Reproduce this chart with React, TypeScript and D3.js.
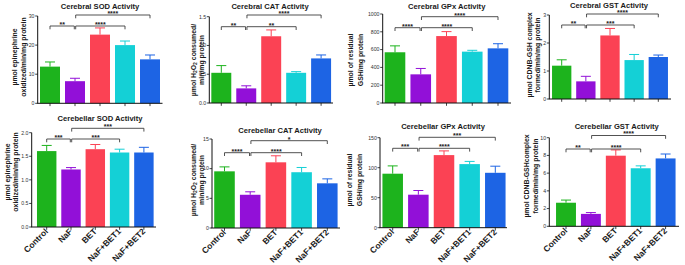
import React from "react";
import * as d3 from "d3";

const categories = ["Control", "NaF", "BET", "NaF+BET1", "NaF+BET2"];
const barColors = ["#1db31d", "#9210d8", "#fb4254", "#14d0d6", "#1d64e4"];

const titles = [
  "Cerebral SOD Activity",
  "Cerebral CAT Activity",
  "Cerebral GPx Activity",
  "Cerebral GST Activity",
  "Cerebellar SOD Activity",
  "Cerebellar CAT Activity",
  "Cerebellar GPx Activity",
  "Cerebellar GST Activity",
];

// means and SEM
const sodCerebralMean = [12.6, 7.6, 23.6, 20.0, 15.1];
const sodCerebralErr = [1.6, 1.0, 2.3, 1.4, 1.5];
const catCerebralMean = [0.525, 0.254, 1.16, 0.525, 0.775];
const catCerebralErr = [0.125, 0.045, 0.11, 0.02, 0.06];
const gpxCerebralMean = [570, 322, 752, 577, 614];
const gpxCerebralErr = [72, 66, 50, 15, 52];
const gstCerebralMean = [1.19, 0.63, 2.27, 1.39, 1.5];
const gstCerebralErr = [0.21, 0.18, 0.25, 0.2, 0.07];
const sodCerebellarMean = [1.61, 1.22, 1.65, 1.58, 1.58];
const sodCerebellarErr = [0.12, 0.04, 0.1, 0.07, 0.11];
const catCerebellarMean = [9.55, 5.6, 11.07, 9.4, 7.53];
const catCerebellarErr = [0.75, 0.5, 1.1, 0.8, 0.75];
const gpxCerebellarMean = [90, 55, 121, 106, 91.5];
const gpxCerebellarErr = [13, 7, 7, 4.5, 11];
const gstCerebellarMean = [2.66, 1.4, 7.97, 6.55, 7.66];
const gstCerebellarErr = [0.3, 0.15, 0.65, 0.27, 0.5];

const yMax = [30, 1.5, 1000, 3, 2, 15, 150, 10];
const yTickStep = [10, 0.5, 200, 1, 0.5, 5, 50, 2];
const yTickFmt = ["d", ".1f", "d", "d", ".1f", "d", "d", "d"];

const yLabels: string[][] = [
  ["µmol epinephrine", "oxidized/min/mg protein"],
  ["µmol H2O2 consumed/", "min/mg protein"],
  ["µmol of residual", "GSH/mg protein"],
  ["µmol CDNB-GSH complex", "formed/min/mg protein"],
  ["µmol epinephrine", "oxidized/min/mg protein"],
  ["µmol H2O2 consumed/", "min/mg protein"],
  ["µmol of residual", "GSH/mg protein"],
  ["µmol CDNB-GSHcomplex", "formed/min/mg protein"],
];

// significance: [fromIndex, toIndex, label]
const sigLow1: [number, number, string][] = [
  [0, 1, "**"], [0, 1, "**"], [0, 1, "****"], [0, 1, "**"],
  [0, 1, "***"], [0, 1, "****"], [0, 1, "***"], [0, 1, "**"],
];
const sigLow2: [number, number, string][] = [
  [1, 3, "****"], [1, 3, "**"], [1, 3, "****"], [1, 3, "***"],
  [1, 3, "***"], [1, 3, "****"], [1, 3, "****"], [1, 3, "****"],
];
const sigHigh: [number, number, string][] = [
  [1, 4, "****"], [1, 4, "****"], [1, 4, "****"], [1, 4, "****"],
  [1, 4, "***"], [1, 4, "*"], [1, 4, "***"], [1, 4, "****"],
];

const means = [
  sodCerebralMean, catCerebralMean, gpxCerebralMean, gstCerebralMean,
  sodCerebellarMean, catCerebellarMean, gpxCerebellarMean, gstCerebellarMean,
];
const errs = [
  sodCerebralErr, catCerebralErr, gpxCerebralErr, gstCerebralErr,
  sodCerebellarErr, catCerebellarErr, gpxCerebellarErr, gstCerebellarErr,
];

// layout (pixels)
type Layout = {
  axisX: number; base: number; top: number; c0: number; step: number; xEnd: number;
  tx: number; ty: number; lx1: number; lx2: number; lcy: number; bLow: number; bHigh: number;
  xLabels: boolean;
};
const layouts: Layout[] = [
  { axisX: 37.7, base: 103.3, top: 16, c0: 50, step: 25, xEnd: 162.5, tx: 100, ty: 8.5, lx1: 14, lx2: 23.3, lcy: 57, bLow: 26, bHigh: 15, xLabels: false },
  { axisX: 209.3, base: 103, top: 16.7, c0: 221.3, step: 24.95, xEnd: 333, tx: 270, ty: 8.5, lx1: 193.3, lx2: 201.5, lcy: 60, bLow: 26.7, bHigh: 15, xLabels: false },
  { axisX: 382.7, base: 103, top: 14, c0: 395, step: 25.75, xEnd: 511, tx: 446.7, ty: 9.3, lx1: 350, lx2: 360, lcy: 60, bLow: 27.7, bHigh: 16.7, xLabels: false },
  { axisX: 549.3, base: 99, top: 15, c0: 561.7, step: 24.15, xEnd: 671, tx: 609, ty: 7.5, lx1: 529.7, lx2: 537.3, lcy: 55, bLow: 25, bHigh: 14, xLabels: false },
  { axisX: 31.7, base: 227, top: 132.7, c0: 46.7, step: 24.3, xEnd: 156, tx: 100, ty: 120.5, lx1: 7.3, lx2: 15.7, lcy: 172, bLow: 139, bHigh: 128.3, xLabels: true },
  { axisX: 212, base: 228, top: 139, c0: 224.5, step: 25.7, xEnd: 340, tx: 280, ty: 133, lx1: 193.3, lx2: 201.7, lcy: 180, bLow: 152.7, bHigh: 140.7, xLabels: true },
  { axisX: 380, base: 227.7, top: 137.7, c0: 392.7, step: 25.65, xEnd: 507, tx: 443, ty: 128.5, lx1: 349.3, lx2: 359.3, lcy: 180, bLow: 148.3, bHigh: 137.3, xLabels: true },
  { axisX: 549.3, base: 226.3, top: 137.7, c0: 566, step: 24.9, xEnd: 679, tx: 616.7, ty: 129.3, lx1: 526.7, lx2: 535, lcy: 176, bLow: 149, bHigh: 135.5, xLabels: true },
];

const FONT = "'Liberation Sans', Arial, Helvetica, sans-serif";

function renderLabel(s: string) {
  if (s.includes("H2O2")) {
    const [pre, post] = s.split("H2O2");
    return (
      <>
        {pre}H<tspan fontSize="5" dy="1.5">2</tspan>
        <tspan dy="-1.5">O</tspan>
        <tspan fontSize="5" dy="1.5">2</tspan>
        <tspan dy="-1.5">{post}</tspan>
      </>
    );
  }
  return s;
}

function Panel({ i }: { i: number }) {
  const L = layouts[i];
  const y = d3.scaleLinear().domain([0, yMax[i]]).range([L.base, L.top]);
  const x = d3
    .scaleBand<string>()
    .domain(categories)
    .range([L.c0 - L.step / 2, L.c0 - L.step / 2 + L.step * categories.length])
    .paddingInner(0.2)
    .paddingOuter(0.1);
  const cx = (k: number) => (x(categories[k]) as number) + x.bandwidth() / 2;
  const ticks = d3.range(0, yMax[i] + yTickStep[i] / 2, yTickStep[i]);
  const fmt = d3.format(yTickFmt[i]);
  const bracket = (b: [number, number, string], yy: number, key: string, leftAdj: number, rightAdj: number) => {
    const x1 = cx(b[0]) + leftAdj;
    const x2 = cx(b[1]) + rightAdj;
    return (
      <g key={key}>
        <path d={`M${x1},${yy + 3.3}V${yy}H${x2}V${yy + 3.3}`} fill="none" stroke="#333" strokeWidth={0.85} />
        <text x={(x1 + x2) / 2} y={yy + 0.8} textAnchor="middle" fontSize={7} fontWeight="bold" fill="#222" fontFamily={FONT}>
          {b[2]}
        </text>
      </g>
    );
  };
  return (
    <g>
      <text x={L.tx} y={L.ty} textAnchor="middle" fontSize={7.6} fontWeight="bold" fill="#1a1a1a" fontFamily={FONT}>
        {titles[i]}
      </text>
      {means[i].map((m, k) => {
        const c = cx(k);
        const top = y(m + errs[i][k]);
        return (
          <g key={k}>
            <rect x={x(categories[k])} y={y(m)} width={x.bandwidth()} height={L.base - y(m)} fill={barColors[k]} />
            <line x1={c} x2={c} y1={y(m)} y2={top} stroke={barColors[k]} strokeWidth={1} />
            <line x1={c - 5} x2={c + 5} y1={top} y2={top} stroke={barColors[k]} strokeWidth={1} />
          </g>
        );
      })}
      {/* y axis */}
      <line x1={L.axisX} x2={L.axisX} y1={L.top} y2={L.base} stroke="#111" strokeWidth={1} />
      {ticks.map((t) => (
        <g key={t}>
          <line x1={L.axisX - 2.5} x2={L.axisX} y1={y(t)} y2={y(t)} stroke="#111" strokeWidth={0.8} />
          <text x={L.axisX - 3.2} y={y(t)} dy="0.35em" textAnchor="end" fontSize={5.2} fill="#333" fontFamily={FONT}>
            {fmt(t)}
          </text>
        </g>
      ))}
      {/* x axis */}
      <line x1={L.axisX - 0.5} x2={L.xEnd} y1={L.base} y2={L.base} stroke="#111" strokeWidth={1} />
      {categories.map((c, k) => (
        <line key={c} x1={cx(k)} x2={cx(k)} y1={L.base} y2={L.base + 2.8} stroke="#111" strokeWidth={0.8} />
      ))}
      {L.xLabels &&
        categories.map((c, k) => (
          <text
            key={c}
            transform={`translate(${cx(k) + 2},${L.base + 5}) rotate(-45)`}
            textAnchor="end"
            fontSize={8.5}
            fontWeight="bold"
            fill="#1a1a1a"
            fontFamily={FONT}
          >
            {c}
          </text>
        ))}
      {/* y label */}
      {[L.lx1, L.lx2].map((lx, li) => (
        <text
          key={li}
          transform={`translate(${lx},${L.lcy}) rotate(-90)`}
          textAnchor="middle"
          dominantBaseline="central"
          fontSize={6.9}
          fontWeight="bold"
          fill="#1a1a1a"
          fontFamily={FONT}
        >
          {renderLabel(yLabels[i][li])}
        </text>
      ))}
      {bracket(sigLow1[i], L.bLow, "b1", 0, -0.7)}
      {bracket(sigLow2[i], L.bLow, "b2", 0.7, 0)}
      {bracket(sigHigh[i], L.bHigh, "b3", 0.7, 0)}
    </g>
  );
}

export default function App() {
  return (
    <div style={{ position: "fixed", left: 0, top: 0, width: 685, height: 265, background: "#fff" }}>
      <svg width={685} height={265} viewBox="0 0 685 265" style={{ display: "block" }}>
        <rect width={685} height={265} fill="#fff" />
        {layouts.map((_, i) => (
          <Panel key={i} i={i} />
        ))}
      </svg>
    </div>
  );
}
